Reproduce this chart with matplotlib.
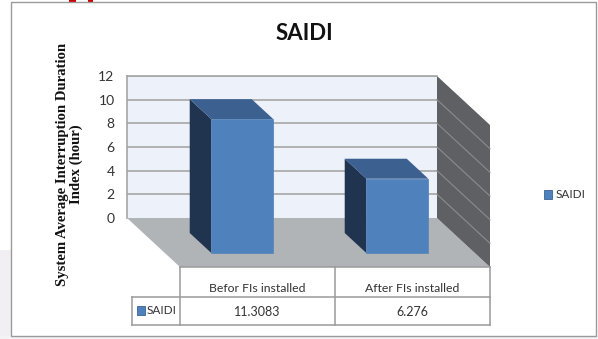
import matplotlib
matplotlib.use("Agg")
import matplotlib.pyplot as plt
from matplotlib.patches import Polygon, Rectangle

plt.rcParams['font.family'] = ['Lato', 'DejaVu Sans']

categories = ["Befor FIs installed", "After FIs installed"]
saidi = [11.3083, 6.276]
value_labels = ["11.3083", "6.276"]
yticks = [0, 2, 4, 6, 8, 10, 12]

W, H = 598, 339
DEPTH_X = 53 / 155   # floor depth in category units
DEPTH_Y = 49 / 11.83 # floor depth in value units
BAR_W = 0.4
BAR_D0, BAR_D1 = 0.306, 0.714

FRONT = "#4f81bd"
TOP = "#3c6190"
SIDE = "#20344f"
WALL = "#ecf1fa"
FLOOR = "#b1b4b7"
RIGHT = "#5f6063"
GRID = "#a6a6a6"
EDGE = "#9a9a9a"
TEXT = "#333333"


def project(x, v, d):
    # depth d runs 0 (back wall) to 1 (front of floor)
    return (x + d * DEPTH_X, v - d * DEPTH_Y)


def face(ax, pts, color, z, **kw):
    ax.add_patch(Polygon([project(*p) for p in pts], closed=True, fc=color,
                         ec=kw.pop("ec", "none"), lw=kw.pop("lw", 0),
                         zorder=z, clip_on=False, **kw))


fig = plt.figure(figsize=(W / 100, H / 100), dpi=100)

# page layer in pixel coordinates
bg = fig.add_axes([0, 0, 1, 1], zorder=0)
bg.set_xlim(0, W)
bg.set_ylim(H, 0)
bg.axis("off")
bg.add_patch(Rectangle((0, 250), 11, 89, fc="#f1eff4", ec="none"))
bg.add_patch(Rectangle((0, 336), W, 3, fc="#f3f2f5", ec="none"))
bg.add_patch(Rectangle((69, 0), 7, 2, fc="#d00000", ec="none"))
bg.add_patch(Rectangle((88, 0), 5, 2, fc="#d00000", ec="none"))
bg.add_patch(Rectangle((11, 2), 585, 334, fc="white", ec=EDGE, lw=1.0))

ax = fig.add_axes([127 / W, 1 - 218 / H, 310 / W, 142 / H], zorder=1)
ax.set_xlim(-0.5, 1.5)
ax.set_ylim(0, 12)
ax.set_facecolor(WALL)
ax.set_xticks([])
ax.set_yticks(yticks)
ax.tick_params(axis="y", length=0, pad=9, labelsize=10, labelcolor=TEXT)
for s in ax.spines.values():
    s.set_color(GRID)
    s.set_linewidth(1.2)
ax.spines["bottom"].set_visible(False)
ax.spines["right"].set_visible(False)
for t in yticks[1:]:
    ax.axhline(t, color=GRID, lw=1.2, zorder=1)

# floor and right-hand wall
face(ax, [(-0.5, 0, 0), (1.5, 0, 0), (1.5, 0, 1), (-0.5, 0, 1)], FLOOR, 2)
face(ax, [(1.5, 0, 0), (1.5, 12, 0), (1.5, 12, 1), (1.5, 0, 1)], RIGHT, 2)
for t in yticks[1:-1]:
    a, b = project(1.5, t, 0), project(1.5, t, 1)
    ax.plot([a[0], b[0]], [a[1], b[1]], color="#8b8c8e", lw=0.8, zorder=3, clip_on=False)

# 3D columns
for i, val in enumerate(saidi):
    x0, x1 = i - BAR_W / 2, i + BAR_W / 2
    face(ax, [(x0, 0, BAR_D0), (x0, val, BAR_D0), (x0, val, BAR_D1), (x0, 0, BAR_D1)], SIDE, 4)
    face(ax, [(x0, val, BAR_D0), (x1, val, BAR_D0), (x1, val, BAR_D1), (x0, val, BAR_D1)], TOP, 4)
    face(ax, [(x0, 0, BAR_D1), (x0, val, BAR_D1), (x1, val, BAR_D1), (x1, 0, BAR_D1)], FRONT, 5,
         ec="#5b87bb", lw=0.6)

# overlay for title, table and legend
top = fig.add_axes([0, 0, 1, 1], zorder=2)
top.set_xlim(0, W)
top.set_ylim(H, 0)
top.axis("off")
top.patch.set_alpha(0)

top.text(304, 33, "SAIDI", ha="center", va="center", fontsize=16, fontweight="bold", color="#111111")
top.text(69.5, 164, "System Average Interruption Duration\nIndex (hour)", rotation=90,
         ha="center", va="center", multialignment="center", fontsize=10.6, fontweight="bold",
         family="Liberation Serif", color="#111111", linespacing=1.02)

# data table under the floor
tbl = dict(color=EDGE, lw=1.1)
top.plot([180, 180], [267, 325], **tbl)
top.plot([335, 335], [267, 325], **tbl)
top.plot([490, 490], [267, 325], **tbl)
top.plot([132, 490], [297, 297], **tbl)
top.plot([132, 490], [325, 325], **tbl)
top.plot([132, 132], [297, 325], **tbl)
top.plot([180, 490], [267, 267], **tbl)

for cx, cat, lab in zip([257.5, 412.5], categories, value_labels):
    top.text(cx, 288, cat, ha="center", va="center", fontsize=8.8, color=TEXT)
    top.text(cx, 312, lab, ha="center", va="center", fontsize=9, color=TEXT)

top.add_patch(Rectangle((137, 306), 8, 9, fc=FRONT, ec="#3c6190", lw=0.6))
top.text(147, 311, "SAIDI", ha="left", va="center", fontsize=8.5, color=TEXT)

top.add_patch(Rectangle((544, 190), 8, 9, fc=FRONT, ec="#3c6190", lw=0.6))
top.text(555.5, 195, "SAIDI", ha="left", va="center", fontsize=8.5, color=TEXT)

fig.savefig("out.png", dpi=100)
